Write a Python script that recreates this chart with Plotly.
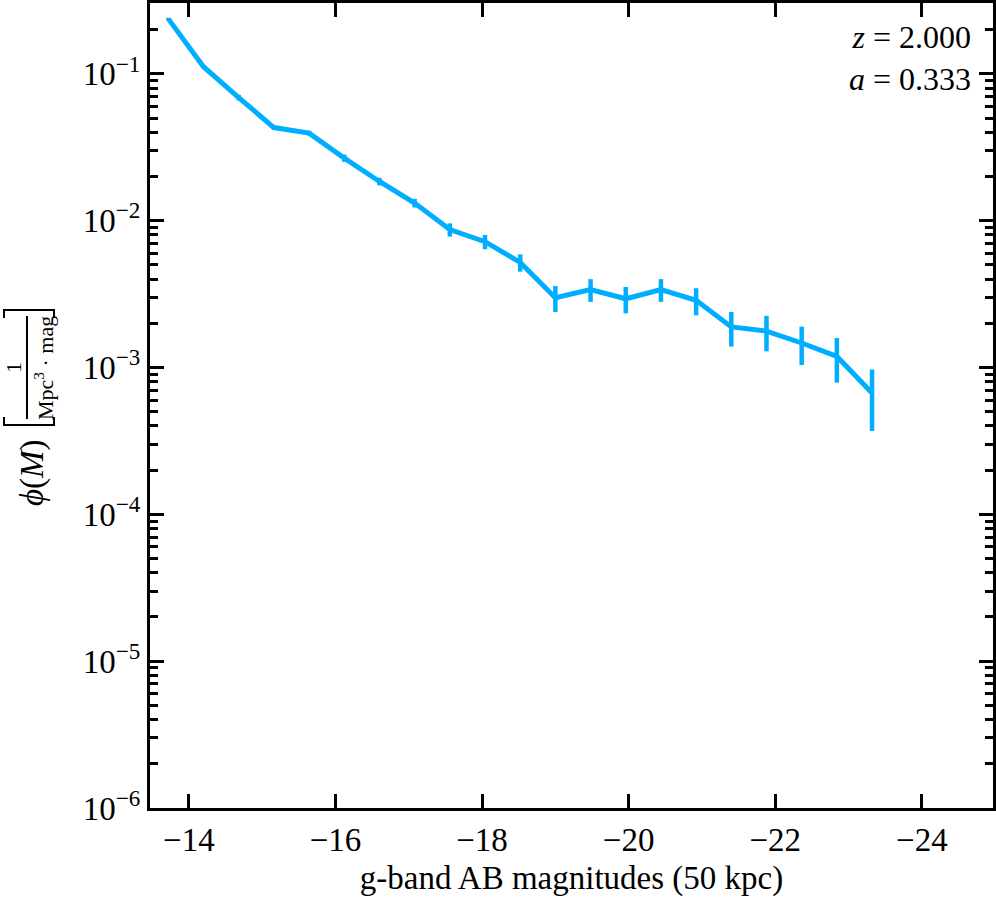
import plotly.graph_objects as go

# luminosity function, g-band, z = 2
magnitudes = [-13.72, -14.20, -14.68, -15.16, -15.64, -16.12, -16.60, -17.08, -17.56, -18.04, -18.52,
              -19.00, -19.48, -19.96, -20.44, -20.92, -21.40, -21.88, -22.36, -22.84, -23.32]
phi = [0.237, 0.112, 0.069, 0.0431, 0.0395, 0.0267, 0.0185, 0.0132, 0.0087, 0.0072, 0.0052,
       0.00299, 0.0034, 0.00294, 0.0034, 0.00287, 0.00189, 0.00177, 0.00147, 0.00119, 0.00067]
phi_err = [0.004, 0.003, 0.003, 0.0015, 0.0015, 0.0015, 0.0011, 0.0009, 0.0009, 0.0008, 0.0007,
           0.0006, 0.0006, 0.0006, 0.0006, 0.0006, 0.0005, 0.00048, 0.00043, 0.0004, 0.0003]

x_ticks = [-14, -16, -18, -20, -22, -24]
x_labels = ["\u221214", "\u221216", "\u221218", "\u221220", "\u221222", "\u221224"]
y_ticks = [1e-6, 1e-5, 1e-4, 1e-3, 1e-2, 1e-1]
y_labels = ["10<sup>\u22126</sup>", "10<sup>\u22125</sup>", "10<sup>\u22124</sup>",
            "10<sup>\u22123</sup>", "10<sup>\u22122</sup>", "10<sup>\u22121</sup>"]
y_minor = [m * d for d in [1e-6, 1e-5, 1e-4, 1e-3, 1e-2, 1e-1] for m in range(2, 10)]

color = "#00aeff"
font = "Liberation Serif"
x_range = [-13.47, -24.97]
y_range = [-6, -0.517]

trace = go.Scatter(
    x=magnitudes, y=phi, mode="lines",
    line=dict(color=color, width=5),
    error_y=dict(type="data", array=phi_err, color=color, thickness=4.5, width=0),
    showlegend=False,
)
# invisible copy so the top / right tick axes get drawn
ghost = go.Scatter(x=magnitudes, y=phi, mode="lines", xaxis="x2", yaxis="y2",
                   line=dict(width=0), opacity=0, hoverinfo="skip", showlegend=False)

fig = go.Figure(data=[trace, ghost])

fig.update_layout(
    width=996, height=900,
    margin=dict(l=150, r=3, t=3, b=92, autoexpand=False),
    paper_bgcolor="white", plot_bgcolor="white",
    font=dict(family=font, size=33, color="black"),
)

tick_style = dict(ticks="inside", ticklen=14, tickwidth=3, tickcolor="black",
                  showline=True, linewidth=3, linecolor="black",
                  showgrid=False, zeroline=False, automargin=False)
minor_style = dict(tickvals=y_minor, ticks="inside", ticklen=8, tickwidth=2.5,
                   tickcolor="black", showgrid=False)

fig.update_layout(
    xaxis=dict(range=x_range, tickvals=x_ticks, ticktext=x_labels,
               title=dict(text="g-band AB magnitudes (50 kpc)", standoff=10, font=dict(size=33)),
               **tick_style),
    yaxis=dict(type="log", range=y_range, tickvals=y_ticks, ticktext=y_labels,
               minor=minor_style, **tick_style),
    xaxis2=dict(range=x_range, tickvals=x_ticks, overlaying="x", side="top",
                showticklabels=False, **tick_style),
    yaxis2=dict(type="log", range=y_range, tickvals=y_ticks, overlaying="y", side="right",
                showticklabels=False, minor=minor_style, **tick_style),
)

# redshift / scale factor box
fig.add_annotation(x=1, y=1, xref="paper", yref="paper", xanchor="right", yanchor="top",
                   xshift=-20, yshift=-14, showarrow=False, align="right",
                   text="<i>z</i> = 2.000<br><i>a</i> = 0.333", font=dict(size=32))

# y label: phi(M) [1 / (Mpc^3 . mag)] built by hand
fig.add_annotation(x=0, y=0, xref="paper", yref="paper", xanchor="center", yanchor="middle",
                   xshift=-118, yshift=335,
                   showarrow=False, textangle=-90, text="<i>\u03d5</i>(<i>M</i>)",
                   font=dict(size=33))
fig.add_annotation(x=0, y=0, xref="paper", yref="paper", xanchor="center", yanchor="middle",
                   xshift=-137, yshift=440,
                   showarrow=False, textangle=-90, text="1", font=dict(size=22))
fig.add_annotation(x=0, y=0, xref="paper", yref="paper", xanchor="center", yanchor="middle",
                   xshift=-106, yshift=440,
                   showarrow=False, textangle=-90, text="Mpc<sup>3</sup> \u00b7 mag", font=dict(size=22))
shape_common = dict(xref="paper", yref="paper", xsizemode="pixel", ysizemode="pixel",
                    xanchor=0, yanchor=0, line=dict(color="black", width=2))
fig.add_shape(type="path", path="M -146,490 L -146,498 L -96,498 L -96,490", **shape_common)
fig.add_shape(type="path", path="M -146,391 L -146,383 L -96,383 L -96,391", **shape_common)
fig.add_shape(type="line", x0=-123, x1=-123, y0=389, y1=492, **shape_common)

# page body margin would push the 996x900 figure off the window
fig.write_html("out.html", config={"displayModeBar": False},
               post_script="document.body.style.margin = '0';")
